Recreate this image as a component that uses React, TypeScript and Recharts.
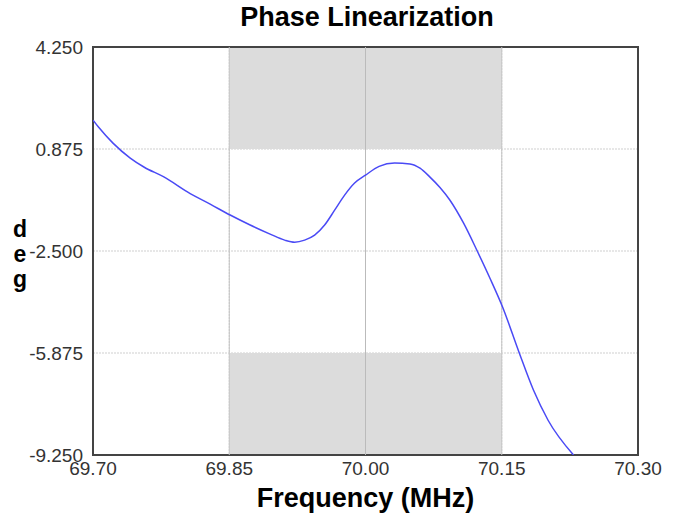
import React from 'react';
import { LineChart, Line, XAxis, YAxis, CartesianGrid, ReferenceArea, ReferenceLine } from 'recharts';

const freqs = [69.70, 69.706, 69.722, 69.741, 69.756, 69.778, 69.807, 69.829, 69.851, 69.873, 69.895, 69.911, 69.922, 69.933, 69.944, 69.955, 69.966, 69.977, 69.988, 70.00, 70.015, 70.032, 70.049, 70.06, 70.071, 70.082, 70.093, 70.108, 70.123, 70.137, 70.151, 70.169, 70.185, 70.201, 70.229];
const phases = [1.83, 1.6, 1.07, 0.575, 0.28, -0.05, -0.6, -0.95, -1.31, -1.64, -1.94, -2.14, -2.21, -2.14, -1.975, -1.64, -1.15, -0.65, -0.25, 0.01, 0.3, 0.41, 0.38, 0.24, -0.055, -0.4, -0.82, -1.58, -2.5, -3.4, -4.36, -5.85, -7.11, -8.1, -9.25];
const xTicks = [69.70, 69.85, 70.00, 70.15, 70.30];
const yTicks = [-9.25, -5.875, -2.5, 0.875, 4.25];
const maskX = [69.85, 70.15];
const upperMask = [0.875, 4.25];
const lowerMask = [-9.25, -5.875];

const data = freqs.map((f, i) => ({ f, p: phases[i] }));
const font = '"Liberation Sans", Arial, sans-serif';

const YLab = (props: any) => {
  return (
    <text x={20} textAnchor="middle" fontFamily={font} fontWeight="bold" fontSize={23} fill="#000">
      <tspan x={20} y={237}>d</tspan>
      <tspan x={20} y={262}>e</tspan>
      <tspan x={20} y={287}>g</tspan>
    </text>
  );
};

export default function App() {
  return (
    <div style={{ position: 'absolute', left: 0, top: 0, width: 674, height: 522, background: '#fff' }}>
      <div style={{ position: 'absolute', left: 0, width: 734, top: 2, textAlign: 'center', fontFamily: font, fontWeight: 'bold', fontSize: 27, color: '#000' }}>
        Phase Linearization
      </div>
      <LineChart width={674} height={522} data={data} margin={{ top: 47, right: 36, bottom: 42, left: 8 }}>
        <CartesianGrid stroke="#cfcfcf" strokeDasharray="2 1" />
        <ReferenceArea x1={maskX[0]} x2={maskX[1]} y1={upperMask[0]} y2={upperMask[1]} fill="#dcdcdc" fillOpacity={1} stroke="none" />
        <ReferenceArea x1={maskX[0]} x2={maskX[1]} y1={lowerMask[0]} y2={lowerMask[1]} fill="#dcdcdc" fillOpacity={1} stroke="none" />
        <ReferenceLine x={69.85} stroke="#c4c4c4" />
        <ReferenceLine x={70.0} stroke="#bbbbbb" />
        <ReferenceLine x={70.15} stroke="#c4c4c4" />
        <XAxis
          dataKey="f"
          type="number"
          domain={[69.7, 70.3]}
          ticks={xTicks}
          tickFormatter={(v: number) => v.toFixed(2)}
          tickLine={false}
          axisLine={false}
          tick={{ fill: '#333', fontSize: 19, fontFamily: font }}
          tickMargin={1}
          height={25}
          allowDataOverflow
          label={{ value: 'Frequency (MHz)', position: 'insideBottom', offset: -27, fill: '#000', fontSize: 27, fontWeight: 'bold', fontFamily: font }}
        />
        <YAxis
          type="number"
          domain={[-9.25, 4.25]}
          ticks={yTicks}
          tickFormatter={(v: number) => v.toFixed(3)}
          tickLine={false}
          axisLine={false}
          tick={{ fill: '#333', fontSize: 19, fontFamily: font }}
          tickMargin={4}
          width={85}
          allowDataOverflow
          label={<YLab />}
        />
        <Line type="monotone" dataKey="p" stroke="#4a4af5" strokeWidth={1.5} dot={false} isAnimationActive={false} />
        <ReferenceArea x1={69.7} x2={70.3} y1={-9.25} y2={4.25} fill="none" stroke="#444" strokeWidth={2} ifOverflow="visible" />
      </LineChart>
    </div>
  );
}
